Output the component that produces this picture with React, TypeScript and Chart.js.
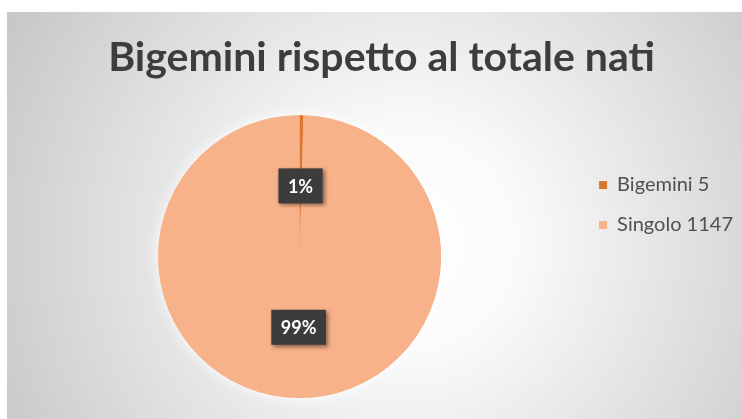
import { useEffect, useRef } from 'react';
import { Chart, PieController, ArcElement, Legend, Title } from 'chart.js';

Chart.register(PieController, ArcElement, Legend, Title);

const titleText = 'Bigemini rispetto al totale nati';
const categories = ['Bigemini 5', 'Singolo 1147'];
const values = [5, 1147];
const percentLabels = ['1%', '99%'];
const sliceColors = ['#D97730', '#F8B289'];

const CANVAS_W = 736;
const CANVAS_H = 407;

const backgroundPlugin = {
  id: 'bgGradient',
  beforeDraw(chart: any) {
    const { ctx, width, height } = chart;
    const g = ctx.createRadialGradient(400, 230, 0, 400, 230, 450);
    g.addColorStop(0, '#ffffff');
    g.addColorStop(0.25, '#fafafa');
    g.addColorStop(1, '#c8c8c8');
    ctx.save();
    ctx.fillStyle = g;
    ctx.fillRect(0, 0, width, height);
    ctx.restore();
  },
};

const glowPlugin = {
  id: 'pieGlow',
  beforeDatasetsDraw(chart: any) {
    const meta = chart.getDatasetMeta(0);
    const arc = meta.data[0];
    if (!arc) return;
    const { x, y, outerRadius } = arc.getProps(['x', 'y', 'outerRadius'], true);
    const ctx = chart.ctx;
    ctx.save();
    ctx.shadowColor = 'rgba(255,255,255,0.95)';
    ctx.shadowBlur = 14;
    ctx.fillStyle = sliceColors[1];
    ctx.beginPath();
    ctx.arc(x, y, outerRadius, 0, Math.PI * 2);
    ctx.fill();
    ctx.restore();
  },
};

const labelPlugin = {
  id: 'pctLabels',
  afterDraw(chart: any) {
    const meta = chart.getDatasetMeta(0);
    const ctx = chart.ctx;
    ctx.save();
    ctx.font = 'bold 18px Lato';
    meta.data.forEach((arc: any, i: number) => {
      const { x, y } = arc.tooltipPosition(true);
      const text = percentLabels[i];
      const tw = ctx.measureText(text).width;
      const w = tw + 19;
      const h = 35;
      ctx.shadowColor = 'rgba(0,0,0,0.45)';
      ctx.shadowBlur = 4;
      ctx.shadowOffsetX = 2;
      ctx.shadowOffsetY = 2;
      ctx.fillStyle = '#3c3c3c';
      ctx.fillRect(x - w / 2, y - h / 2, w, h);
      ctx.shadowColor = 'rgba(0,0,0,0)';
      ctx.shadowBlur = 0;
      ctx.shadowOffsetX = 0;
      ctx.shadowOffsetY = 0;
      ctx.fillStyle = '#ffffff';
      ctx.textAlign = 'center';
      ctx.textBaseline = 'middle';
      ctx.fillText(text, x, y + 1);
    });
    ctx.restore();
  },
};

export default function App() {
  const ref = useRef<HTMLCanvasElement | null>(null);

  useEffect(() => {
    let chart: Chart | null = null;
    let cancelled = false;
    const make = () => {
      if (cancelled || !ref.current) return;
      chart = new Chart(ref.current, {
        type: 'pie',
        data: {
          labels: categories,
          datasets: [
            {
              data: values,
              backgroundColor: sliceColors,
              borderWidth: 0,
              hoverOffset: 0,
              offset: 0,
            },
          ],
        },
        options: {
          responsive: false,
          animation: false,
          events: [],
          layout: { padding: { left: 13, right: 0, top: 0, bottom: 21 } },
          plugins: {
            title: {
              display: true,
              text: titleText,
              color: '#3d3d3d',
              font: { family: 'Lato', size: 41, weight: 'bold', lineHeight: 1.2 },
              padding: { top: 21, bottom: 33 },
            },
            legend: {
              display: true,
              position: 'right',
              align: 'center',
              labels: {
                boxWidth: 8,
                boxHeight: 8,
                padding: 20,
                color: '#505050',
                font: { family: 'Lato', size: 20 },
              },
            },
          },
        },
        plugins: [backgroundPlugin, glowPlugin, labelPlugin],
      } as any);
    };
    const fonts: any = (document as any).fonts;
    if (fonts && fonts.load) {
      Promise.all([
        fonts.load('bold 41px Lato'),
        fonts.load('20px Lato'),
        fonts.load('bold 18px Lato'),
      ])
        .catch(() => null)
        .then(make);
    } else {
      make();
    }
    return () => {
      cancelled = true;
      if (chart) chart.destroy();
    };
  }, []);

  return (
    <div
      style={{
        position: 'fixed',
        left: 7,
        top: 12,
        width: 735,
        height: CANVAS_H,
        overflow: 'hidden',
      }}
    >
      <canvas ref={ref} width={CANVAS_W} height={CANVAS_H} style={{ display: 'block' }} />
    </div>
  );
}
